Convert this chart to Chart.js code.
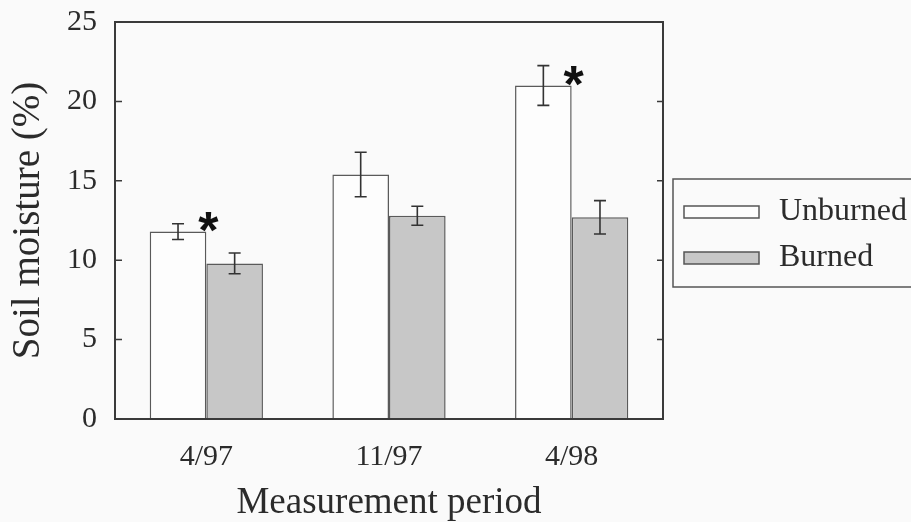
<!DOCTYPE html>
<html>
<head>
<meta charset="utf-8">
<script src="https://cdn.jsdelivr.net/npm/chart.js@4"></script>
<style>
	html, body { margin: 0; padding: 0; background: #fafafa; }
	#wrap { width: 911px; height: 522px; }
</style>
</head>
<body>
<div id="wrap"><canvas id="humedad" width="911" height="522"></canvas></div>
<script>
const periodos = ['4/97', '11/97', '4/98'];
const unburned = [11.8, 15.4, 21.0];
const unburnedErr = [0.5, 1.4, 1.25];
const burned = [9.8, 12.8, 12.7];
const burnedErr = [0.65, 0.6, 1.05];
const significativo = [true, false, true];
const yTicks = [0, 5, 10, 15, 20, 25];

const errores = [unburnedErr, burnedErr];
const tinta = '#2b2b2b';
const serif = "'Liberation Serif', 'DejaVu Serif', serif";

// marco, marcas hacia dentro, barras de error, asteriscos y leyenda
const extras = {
	id: 'extras',
	afterDatasetsDraw(chart) {
		const ctx = chart.ctx;
		const area = chart.chartArea;
		const y = chart.scales.y;
		ctx.save();
		ctx.strokeStyle = '#3a3a3a';
		ctx.lineWidth = 2;
		ctx.strokeRect(area.left, area.top, area.right - area.left, area.bottom - area.top);
		ctx.lineWidth = 1.5;
		for (const v of yTicks) {
			const py = y.getPixelForValue(v);
			ctx.beginPath();
			ctx.moveTo(area.left, py);
			ctx.lineTo(area.left + 7, py);
			ctx.moveTo(area.right, py);
			ctx.lineTo(area.right - 6, py);
			ctx.stroke();
		}

		ctx.strokeStyle = '#333';
		ctx.lineWidth = 1.6;
		chart.data.datasets.forEach((ds, d) => {
			const meta = chart.getDatasetMeta(d);
			meta.data.forEach((bar, i) => {
				const top = y.getPixelForValue(ds.data[i] + errores[d][i]);
				const bot = y.getPixelForValue(ds.data[i] - errores[d][i]);
				ctx.beginPath();
				ctx.moveTo(bar.x, top);
				ctx.lineTo(bar.x, bot);
				ctx.moveTo(bar.x - 6, top);
				ctx.lineTo(bar.x + 6, top);
				ctx.moveTo(bar.x - 6, bot);
				ctx.lineTo(bar.x + 6, bot);
				ctx.stroke();
			});
		});

		const meta0 = chart.getDatasetMeta(0);
		ctx.fillStyle = '#111';
		ctx.font = "bold 52px 'Liberation Sans', sans-serif";
		ctx.textAlign = 'center';
		ctx.textBaseline = 'alphabetic';
		meta0.data.forEach((bar, i) => {
			if (significativo[i]) {
				ctx.fillText('*', bar.x + bar.width / 2 + 2, bar.y + 16);
			}
		});

		// leyenda
		ctx.strokeStyle = '#555';
		ctx.lineWidth = 1.5;
		ctx.strokeRect(673, 179, 260, 108);
		ctx.font = '32px ' + serif;
		ctx.textAlign = 'left';
		ctx.textBaseline = 'middle';
		chart.data.datasets.forEach((ds, d) => {
			const ly = 212 + d * 46;
			ctx.fillStyle = ds.backgroundColor;
			ctx.fillRect(684, ly - 6, 75, 12);
			ctx.strokeStyle = '#555';
			ctx.strokeRect(684, ly - 6, 75, 12);
			ctx.fillStyle = tinta;
			ctx.fillText(ds.label, 779, ly);
		});
		ctx.restore();
	}
};

const data = {
	labels: periodos,
	datasets: [{
		label: 'Unburned',
		data: unburned,
		backgroundColor: '#fdfdfd',
		borderColor: '#5a5a5a',
		borderWidth: 1.5
	}, {
		label: 'Burned',
		data: burned,
		backgroundColor: '#c7c7c7',
		borderColor: '#5a5a5a',
		borderWidth: 1.5
	}]
};

const config = {
	type: 'bar',
	data: data,
	options: {
		responsive: false,
		animation: false,
		layout: {
			padding: { top: 22, right: 248, bottom: 0, left: 0 }
		},
		categoryPercentage: 0.62,
		barPercentage: 1,
		plugins: {
			legend: { display: false },
			tooltip: { enabled: false }
		},
		scales: {
			x: {
				afterFit(scale) { scale.height = 103; },
				grid: { display: false, drawTicks: false },
				border: { display: false },
				ticks: {
					color: tinta,
					padding: 20,
					font: { family: serif, size: 30 }
				},
				title: {
					display: true,
					text: 'Measurement period',
					color: tinta,
					padding: 0,
					font: { family: serif, size: 37, lineHeight: 1 }
				}
			},
			y: {
				min: 0,
				max: 25,
				afterFit(scale) {
					scale.width = 115;
					scale.paddingTop = 0;
					scale.paddingBottom = 0;
				},
				afterBuildTicks(scale) { scale.ticks = yTicks.map(v => ({ value: v })); },
				grid: { display: false, drawTicks: false },
				border: { display: false },
				ticks: {
					color: tinta,
					padding: 18,
					font: { family: serif, size: 30 }
				},
				title: {
					display: true,
					text: 'Soil moisture (%)',
					color: tinta,
					padding: 5,
					font: { family: serif, size: 39, lineHeight: 1.2 }
				}
			}
		}
	},
	plugins: [extras]
};

var myChart = new Chart(
	document.getElementById('humedad'),
	config
);
</script>
</body>
</html>
